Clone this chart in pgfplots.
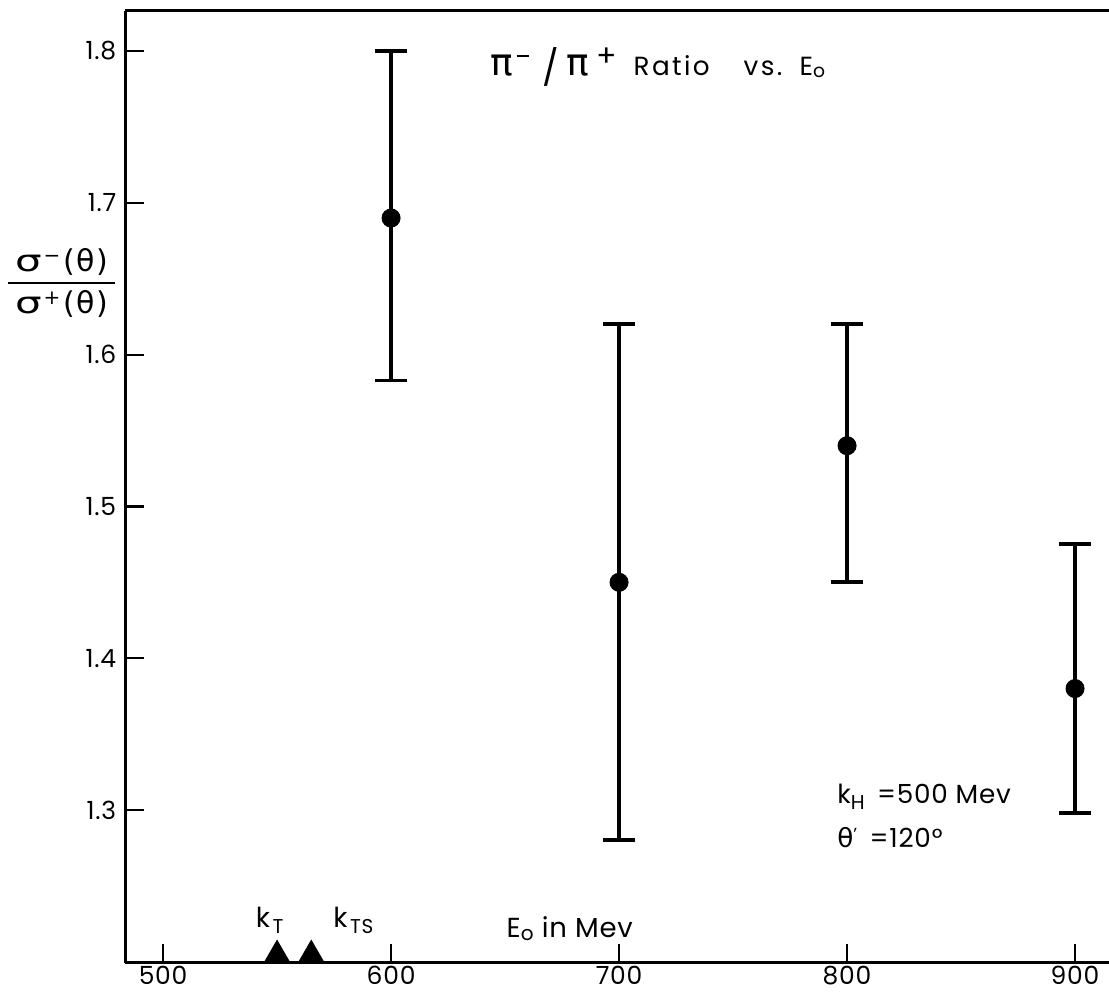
\documentclass[border=0pt]{standalone}
\usepackage{amsmath}
\usepackage{graphicx}
\usepackage{pgfplots}
\pgfplotsset{compat=1.18}
\usepackage{pgfplotstable}
\usepackage{fontspec}
\setmainfont{Poppins}[LetterSpace=3]
\newfontfamily\titlefont{Poppins}[LetterSpace=9]
\newfontfamily\gk{DejaVu Sans}
\pgfplotstableread{
x y ep em
600 1.69 0.110 0.107
700 1.45 0.170 0.170
800 1.54 0.080 0.090
900 1.38 0.095 0.082
}\ratio
\newcommand{\sig}[1]{{\gk\fontsize{12}{12}\selectfont\scalebox{1.4}[1]{σ}\hspace{0.8pt}\raisebox{3.6pt}{\fontsize{8}{8}\selectfont #1}\hspace{1.2pt}(\hspace{0.6pt}θ\hspace{0.6pt})}}
\begin{document}
\begin{tikzpicture}
\useasboundingbox (-50pt,-12.8pt) rectangle (393.6pt,385.2pt);
\begin{axis}[
  scale only axis,
  width=393.6pt, height=380.8pt,
  xmin=483.3, xmax=914.9,
  ymin=1.1992, ymax=1.8264,
  axis x line=box, axis y line=left,
  axis line style={-, line width=1.2pt},
  xtick={500,600,700,800,900},
  ytick={1.3,1.4,1.5,1.6,1.7,1.8},
  xtick pos=bottom, ytick pos=left,
  tick align=inside,
  major tick length=7.6pt,
  tick style={line width=0.9pt, black},
  /pgf/number format/assume math mode=true,
  yticklabel style={/pgf/number format/fixed, /pgf/number format/precision=1, /pgf/number format/fixed zerofill},
  ticklabel style={font=\fontsize{10}{11}\selectfont},
  xticklabel style={inner sep=1pt, yshift=0pt},
  clip=false,
]
\addplot[only marks, mark=*, mark size=3.6pt, black,
  error bars/.cd, y dir=both, y explicit,
  error bar style={line width=1.3pt, black},
  error mark options={rotate=90, mark size=6.5pt, line width=1.5pt, black}]
  table[x=x, y=y, y error plus=ep, y error minus=em] {\ratio};
\addplot[only marks, mark=triangle*, mark size=6pt, black,
  mark options={yshift=3pt}] coordinates {(550,1.1992) (565,1.1992)};
\node[anchor=base west, inner sep=0pt, font=\titlefont\fontsize{10.5}{11}\selectfont] at (axis cs:643.5,1.784)
  {\makebox[10.4pt][l]{\gk\fontsize{15}{15}\selectfont π}%
   \makebox[10.4pt][l]{\rule[7.4pt]{4.8pt}{0.9pt}}%
   \makebox[9.6pt][l]{\raisebox{-2pt}{\fontsize{14}{14}\selectfont/}}%
   \makebox[12pt][l]{\gk\fontsize{15}{15}\selectfont π}%
   \makebox[14.8pt][l]{\raisebox{3.5pt}{\fontsize{12}{12}\selectfont +}}%
   \makebox[44pt][l]{Ratio}%
   \makebox[22.4pt][l]{vs.}%
   E\raisebox{-1pt}{\fontsize{7.5}{8}\selectfont o}};
\node[anchor=base west, inner sep=0pt, font=\fontsize{11}{12}\selectfont] at (axis cs:540.5,1.2229) {k\hspace{1pt}\raisebox{-2.5pt}{\fontsize{8}{8}\selectfont T}};
\node[anchor=base west, inner sep=0pt, font=\fontsize{11}{12}\selectfont] at (axis cs:574.5,1.2229) {k\hspace{1pt}\raisebox{-2.5pt}{\fontsize{8}{8}\selectfont TS}};
\node[anchor=base west, inner sep=0pt, font=\fontsize{11}{12}\selectfont] at (axis cs:650.5,1.2157) {E\raisebox{-1pt}{\fontsize{8}{8}\selectfont o} in Mev};
\node[anchor=base west, inner sep=0pt, font=\fontsize{10.5}{12}\selectfont] at (axis cs:795.5,1.3046) {k\raisebox{-2.5pt}{\fontsize{8}{8}\selectfont H}\hspace{5pt}=500 Mev};
\node[anchor=base west, inner sep=0pt, font=\fontsize{10.5}{12}\selectfont] at (axis cs:795.5,1.275) {{\gk θ}\raisebox{3pt}{\fontsize{7}{8}\selectfont '}\hspace{5pt}=120°};
\node[inner sep=0pt] at (axis cs:455.5,1.6472)
  {$\displaystyle\genfrac{}{}{0.9pt}{}{\makebox[43pt]{\sig{−}}}{\makebox[43pt]{\sig{+}}}$};
\end{axis}
\end{tikzpicture}
\end{document}
